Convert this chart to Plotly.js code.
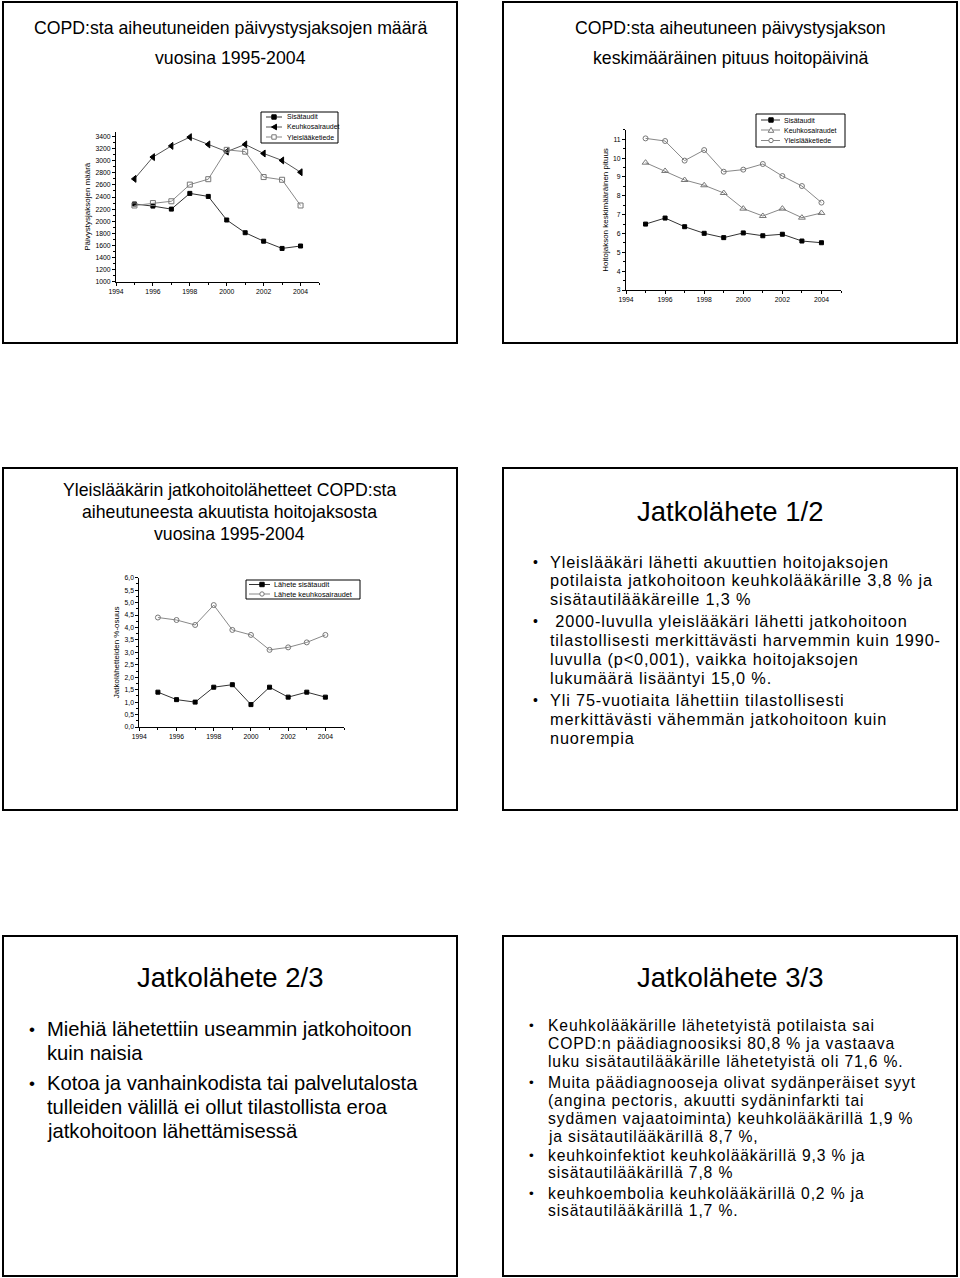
<!DOCTYPE html>
<html>
<head>
<meta charset="utf-8">
<script src="https://cdn.plot.ly/plotly-3.0.1.min.js"></script>
<style>
html,body{margin:0;padding:0;background:#fff;}
#page{width:960px;height:1278px;}
text.annotation-text[style*="16.3px"]{letter-spacing:0.85px;}
text.annotation-text[style*="15.7px"]{letter-spacing:0.85px;}
</style>
</head>
<body>
<div id="page"></div>
<script>
// ---------- DATA ----------
const years = [1995, 1996, 1997, 1998, 1999, 2000, 2001, 2002, 2003, 2004];

// Chart 1: Päivystysjaksojen määrä
const c1Names = ["Sisätaudit", "Keuhkosairaudet", "Yleislääketiede"];
const c1Sisataudit = [2285, 2250, 2200, 2460, 2410, 2020, 1810, 1670, 1550, 1590];
const c1Keuhko = [2700, 3060, 3245, 3390, 3270, 3150, 3270, 3120, 3005, 2810];
const c1Yleis = [2260, 2300, 2330, 2605, 2695, 3180, 3150, 2730, 2685, 2260];

// Chart 2: Hoitojakson keskimääräinen pituus
const c2Names = ["Sisätaudit", "Keuhkosairaudet", "Yleislääketiede"];
const c2Sisataudit = [6.50, 6.82, 6.36, 6.01, 5.78, 6.03, 5.88, 5.96, 5.60, 5.51];
const c2Keuhko = [9.76, 9.32, 8.84, 8.56, 8.15, 7.32, 6.93, 7.32, 6.84, 7.09];
const c2Yleis = [11.05, 10.91, 9.87, 10.43, 9.28, 9.39, 9.69, 9.05, 8.52, 7.64];

// Chart 3: Jatkolähetteiden %-osuus
const c3Names = ["Lähete sisätaudit", "Lähete keuhkosairaudet"];
const c3Sisataudit = [1.4, 1.1, 1.0, 1.6, 1.7, 0.9, 1.6, 1.2, 1.4, 1.2];
const c3Keuhko = [4.4, 4.3, 4.1, 4.9, 3.9, 3.7, 3.1, 3.2, 3.4, 3.7];

// Slide texts
const title1 = ["COPD:sta aiheutuneiden päivystysjaksojen määrä", "vuosina 1995-2004"];
const title2 = ["COPD:sta aiheutuneen päivystysjakson", "keskimääräinen pituus hoitopäivinä"];
const title3 = ["Yleislääkärin jatkohoitolähetteet COPD:sta", "aiheutuneesta akuutista hoitojaksosta", "vuosina 1995-2004"];
const ytitle1 = "Päivystysjaksojen määrä";
const ytitle2 = "Hoitojakson keskimääräinen pituus";
const ytitle3 = "Jatkolähetteiden %-osuus";

const slide4Title = "Jatkolähete 1/2";
const slide4Bullets = [
  ["Yleislääkäri lähetti akuuttien hoitojaksojen", "potilaista jatkohoitoon keuhkolääkärille 3,8 % ja", "sisätautilääkäreille 1,3 %"],
  [" 2000-luvulla yleislääkäri lähetti jatkohoitoon", "tilastollisesti merkittävästi harvemmin kuin 1990-", "luvulla (p<0,001), vaikka hoitojaksojen", "lukumäärä lisääntyi 15,0 %."],
  ["Yli 75-vuotiaita lähettiin tilastollisesti", "merkittävästi vähemmän jatkohoitoon kuin", "nuorempia"]
];
const slide5Title = "Jatkolähete 2/3";
const slide5Bullets = [
  ["Miehiä lähetettiin useammin jatkohoitoon", "kuin naisia"],
  ["Kotoa ja vanhainkodista tai palvelutalosta", "tulleiden välillä ei ollut tilastollista eroa", "jatkohoitoon lähettämisessä"]
];
const slide6Title = "Jatkolähete 3/3";
const slide6Bullets = [
  ["Keuhkolääkärille lähetetyistä potilaista sai", "COPD:n päädiagnoosiksi 80,8 % ja vastaava", "luku sisätautilääkärille lähetetyistä oli 71,6 %."],
  ["Muita päädiagnooseja olivat sydänperäiset syyt", "(angina pectoris, akuutti sydäninfarkti tai", "sydämen vajaatoiminta) keuhkolääkärillä 1,9 %", "ja sisätautilääkärillä 8,7 %,"],
  ["keuhkoinfektiot keuhkolääkärillä 9,3 % ja", "sisätautilääkärillä 7,8 %"],
  ["keuhkoembolia keuhkolääkärillä 0,2 % ja", "sisätautilääkärillä 1,7 %."]
];

// ---------- HELPERS ----------
const W = 960, H = 1278;
const FONT = "Liberation Sans, Arial, sans-serif";
const X = px => px / W;
const Y = py => 1 - py / H;

const shapes = [];
const annotations = [];

function box(x0, y0, x1, y1) {
  shapes.push({type: "rect", xref: "paper", yref: "paper", x0: X(x0), x1: X(x1), y0: Y(y0), y1: Y(y1),
    line: {color: "#000", width: 2}, fillcolor: "rgba(0,0,0,0)", layer: "above"});
}
function text(t, x, y, size, anchor) {
  annotations.push({text: t, xref: "paper", yref: "paper", x: X(x), y: Y(y), xanchor: anchor || "center",
    yanchor: "middle", showarrow: false, font: {family: FONT, size: size, color: "#000"}});
}
function bullets(list, bx, tx, ys, size, bsize) {
  let k = 0;
  list.forEach(group => {
    group.forEach((line, i) => {
      if (i === 0) text("•", bx, ys[k], bsize, "left");
      text(line, tx, ys[k], size, "left");
      k++;
    });
  });
}

// legend builder (layout decoration)
function legendBox(x0, y0, x1, y1) {
  shapes.push({type: "rect", xref: "paper", yref: "paper", x0: X(x0), x1: X(x1), y0: Y(y0), y1: Y(y1),
    line: {color: "#000", width: 1}, fillcolor: "#fff", layer: "above"});
}
function legendItem(lx0, lx1, y, mx, sym, lineColor, label, tx, size) {
  shapes.push({type: "line", xref: "paper", yref: "paper", x0: X(lx0), x1: X(lx1), y0: Y(y), y1: Y(y),
    line: {color: lineColor, width: 1}, layer: "above"});
  const s = 2.2;
  if (sym === "square") {
    shapes.push({type: "rect", xref: "paper", yref: "paper", x0: X(mx - s), x1: X(mx + s), y0: Y(y + s), y1: Y(y - s),
      line: {color: "#000", width: 1}, fillcolor: "#000", layer: "above"});
  } else if (sym === "square-open") {
    shapes.push({type: "rect", xref: "paper", yref: "paper", x0: X(mx - s), x1: X(mx + s), y0: Y(y + s), y1: Y(y - s),
      line: {color: "#777", width: 1}, fillcolor: "#fff", layer: "above"});
  } else if (sym === "circle-open") {
    shapes.push({type: "circle", xref: "paper", yref: "paper", x0: X(mx - s), x1: X(mx + s), y0: Y(y + s), y1: Y(y - s),
      line: {color: "#777", width: 1}, fillcolor: "#fff", layer: "above"});
  } else if (sym === "triangle-left") {
    shapes.push({type: "path", xref: "paper", yref: "paper",
      path: `M${X(mx + 2.5)},${Y(y - 2.8)} L${X(mx - 2.5)},${Y(y)} L${X(mx + 2.5)},${Y(y + 2.8)} Z`,
      line: {color: "#000", width: 1}, fillcolor: "#000", layer: "above"});
  } else if (sym === "triangle-up-open") {
    shapes.push({type: "path", xref: "paper", yref: "paper",
      path: `M${X(mx - 2.8)},${Y(y + 2.3)} L${X(mx)},${Y(y - 2.6)} L${X(mx + 2.8)},${Y(y + 2.3)} Z`,
      line: {color: "#777", width: 1}, fillcolor: "#fff", layer: "above"});
  }
  text(label, tx, y, size, "left");
}

// ---------- SLIDE FRAMES ----------
box(3, 2, 457, 343);
box(503, 2, 957, 343);
box(3, 468, 457, 810);
box(503, 468, 957, 810);
box(3, 936, 457, 1276);
box(503, 936, 957, 1276);

// ---------- TITLES / TEXT ----------
text(title1[0], 230, 28, 17.7);
text(title1[1], 230, 58, 17.7);
text(title2[0], 730, 28, 17.7);
text(title2[1], 730, 58, 17.7);
text(title3[0], 229, 490, 17.7);
text(title3[1], 229, 512, 17.7);
text(title3[2], 229, 534, 17.7);

text(slide4Title, 730, 511, 27.5);
bullets(slide4Bullets, 531, 548, [562, 580, 599, 621, 640, 659, 678, 700, 719, 738], 16.3, 14);

text(slide5Title, 230, 977, 27.5);
bullets(slide5Bullets, 27, 45, [1029, 1053, 1083, 1107, 1131], 20.2, 17);

text(slide6Title, 730, 977, 27.5);
bullets(slide6Bullets, 527, 546, [1025, 1043, 1061, 1082, 1100, 1118, 1136, 1155, 1172, 1193, 1210], 15.7, 13.5);

// ---------- LEGENDS ----------
legendBox(261, 112, 338, 143);
legendItem(266, 282, 117, 274, "square", "#333", c1Names[0], 285, 7);
legendItem(266, 282, 127, 274, "triangle-left", "#555", c1Names[1], 285, 7);
legendItem(266, 282, 137, 274, "square-open", "#888", c1Names[2], 285, 7);

legendBox(756, 114, 845, 147);
legendItem(761, 780, 120, 771, "square", "#333", c2Names[0], 782, 7);
legendItem(761, 780, 130, 771, "triangle-up-open", "#888", c2Names[1], 782, 7);
legendItem(761, 780, 140.5, 771, "circle-open", "#888", c2Names[2], 782, 7);

legendBox(246, 580, 360, 599);
legendItem(249, 270, 584.5, 262, "square", "#333", c3Names[0], 272, 7.3);
legendItem(249, 270, 594, 262, "circle-open", "#888", c3Names[1], 272, 7.3);

// ---------- TRACES ----------
function tr(xa, ya, y, color, sym, mcolor, mline, size) {
  return {x: years, y: y, xaxis: xa, yaxis: ya, type: "scatter", mode: "lines+markers",
    line: {color: color, width: 1},
    marker: {symbol: sym, size: size, color: mcolor, line: {color: mline, width: 1}},
    showlegend: false, hoverinfo: "skip"};
}
const traces = [
  tr("x", "y", c1Sisataudit, "#333", "square", "#000", "#000", 4),
  tr("x", "y", c1Keuhko, "#555", "triangle-left", "#000", "#000", 6),
  tr("x", "y", c1Yleis, "#888", "square-open", "#777", "#777", 5),
  tr("x2", "y2", c2Sisataudit, "#333", "square", "#000", "#000", 4),
  tr("x2", "y2", c2Keuhko, "#888", "triangle-up-open", "#777", "#777", 6),
  tr("x2", "y2", c2Yleis, "#888", "circle-open", "#777", "#777", 5),
  tr("x3", "y3", c3Sisataudit, "#333", "square", "#000", "#000", 4),
  tr("x3", "y3", c3Keuhko, "#888", "circle-open", "#777", "#777", 5)
];

function xax(d0, d1, anchor) {
  return {domain: [X(d0), X(d1)], anchor: anchor, range: [1994, 2005], tick0: 1994, dtick: 2,
    showline: true, linecolor: "#000", linewidth: 1, ticks: "outside", ticklen: 3, tickwidth: 1, tickcolor: "#000",
    minor: {dtick: 1, ticks: "outside", ticklen: 2, tickcolor: "#000"},
    showgrid: false, zeroline: false, tickfont: {family: FONT, size: 6.8, color: "#000"}, fixedrange: true};
}
function yax(top, bottom, anchor, range, dtick, title, fmt) {
  return {domain: [Y(bottom), Y(top)], anchor: anchor, range: range, dtick: dtick, tick0: range[0],
    showline: true, linecolor: "#000", linewidth: 1, ticks: "outside", ticklen: 3, tickwidth: 1, tickcolor: "#000",
    minor: {dtick: dtick / 2, ticks: "outside", ticklen: 2, tickcolor: "#000"},
    tickformat: fmt || "", showgrid: false, zeroline: false,
    tickfont: {family: FONT, size: 6.8, color: "#000"},
    title: {text: title, font: {family: FONT, size: 8, color: "#000"}, standoff: 3}, fixedrange: true};
}

const layout = {
  width: W, height: H, margin: {l: 0, r: 0, t: 0, b: 0},
  paper_bgcolor: "#fff", plot_bgcolor: "rgba(0,0,0,0)",
  separators: ", ", showlegend: false,
  xaxis: xax(116, 319, "y"),
  yaxis: yax(131.7, 281.7, "x", [1000, 3480], 200, ytitle1),
  xaxis2: xax(626, 841, "y2"),
  yaxis2: yax(129.9, 290, "x2", [3, 11.5], 1, ytitle2),
  xaxis3: xax(139.3, 344, "y3"),
  yaxis3: yax(577.7, 727, "x3", [0, 6], 0.5, ytitle3, ".1f"),
  shapes: shapes, annotations: annotations
};

Plotly.newPlot("page", traces, layout, {staticPlot: true, displayModeBar: false});
</script>
</body>
</html>
